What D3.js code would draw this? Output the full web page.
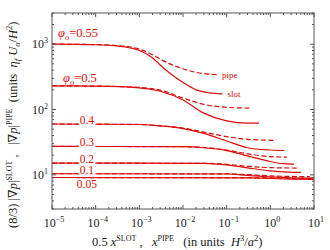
<!DOCTYPE html>
<html>
<head>
<meta charset="utf-8">
<script src="https://cdn.jsdelivr.net/npm/d3@7"></script>
<style>
body{margin:0;background:#fff}
svg{display:block}
text{font-family:"Liberation Serif","DejaVu Serif",serif;white-space:pre}
</style>
</head>
<body>
<div id="chartDiv"></div>
<script>
// curve values: [x, |grad p|]
const phiLabels = ["0.55", "0.5", "0.4", "0.3", "0.2", "0.1", "0.05"];
const slot055 = [[1e-5,1000],[1e-4,980],[3e-4,940],[1e-3,800],[2e-3,620],[3e-3,480],[5e-3,360],[1e-2,260],[2e-2,200],[4e-2,180],[8e-2,174]];
const pipe055 = [[1e-5,1000],[1e-4,985],[3e-4,955],[1e-3,840],[2e-3,690],[3e-3,590],[5e-3,500],[1e-2,420],[2e-2,370],[6e-2,340]];
const slot05  = [[1e-5,230],[1e-4,228],[1e-3,215],[3e-3,190],[1e-2,140],[3e-2,88],[0.1,67],[0.3,62],[0.55,62]];
const pipe05  = [[1e-5,230],[1e-4,228],[1e-3,218],[3e-3,198],[1e-2,150],[3e-2,120],[0.1,108],[0.35,105]];
const slot04  = [[1e-5,60],[1e-3,59],[3e-3,56],[1e-2,51],[3e-2,43],[0.1,33],[0.3,26],[1,24],[2.1,23.6]];
const pipe04  = [[1e-5,60],[1e-3,59],[3e-3,56.5],[1e-2,52],[3e-2,45],[0.1,38.5],[0.3,35],[1,33.8],[1.26,33.6]];
const slot03  = [[1e-5,27.2],[1e-2,27],[3e-2,26],[0.1,23.5],[0.3,19.5],[1,16],[2,14.8],[3.5,14.6]];
const pipe03  = [[1e-5,27.2],[1e-2,27],[3e-2,26.2],[0.1,24],[0.3,21],[1,19],[2.4,18.7]];
const slot02  = [[1e-5,15.1],[3e-2,15],[0.1,14.2],[0.3,12.8],[1,11.5],[2.5,11],[5,10.9]];
const pipe02  = [[1e-5,15.1],[3e-2,15],[0.1,14.5],[0.3,13.5],[1,12.9],[4,12.7]];
const slot01  = [[1e-5,10.4],[0.1,10.3],[0.3,9.8],[1,9.3],[3,9.0],[10,8.9]];
const pipe01  = [[1e-5,10.4],[0.1,10.35],[0.3,10.05],[1,9.65],[3,9.45],[8,9.4]];
const slot005 = [[1e-5,9.1],[0.3,9.0],[1,8.8],[3,8.6],[10,8.5]];
const pipe005 = [[1e-5,9.1],[0.3,9.05],[1,8.95],[3,8.85],[10,8.8]];
const slotCurves = [slot055, slot05, slot04, slot03, slot02, slot01, slot005];
const pipeCurves = [pipe055, pipe05, pipe04, pipe03, pipe02, pipe01, pipe005];
const xTickExps = [-5, -4, -3, -2, -1, 0, 1];
const yTickExps = [1, 2, 3];

const W = 330, H = 250;
const margin = {left: 52, right: 16, top: 13, bottom: 41};
const red = "#dd0a0a";
const axisCol = "#555";
const sp = "\u00a0";

const svg = d3.select("#chartDiv").append("svg").attr("width", W).attr("height", H);

const x = d3.scaleLog().domain([1e-5, 10]).range([margin.left, W - margin.right]);
const y = d3.scaleLog().domain([3, 3000]).range([H - margin.bottom, margin.top]);

const line = d3.line().x(d => x(d[0])).y(d => y(d[1])).curve(d3.curveMonotoneX);

// curves
const gLines = svg.append("g");
pipeCurves.forEach(c => {
    gLines.append("path").attr("d", line(c))
        .attr("fill", "none").attr("stroke", red).attr("stroke-width", 1.2)
        .attr("stroke-dasharray", "5,2.5");
});
slotCurves.forEach(c => {
    gLines.append("path").attr("d", line(c))
        .attr("fill", "none").attr("stroke", red).attr("stroke-width", 1.2);
});

// frame + ticks (inward, all four sides)
const x0 = x.range()[0], x1 = x.range()[1], y0 = y.range()[0], y1 = y.range()[1];
const gAx = svg.append("g").attr("stroke", axisCol).attr("stroke-width", 1).attr("fill", "none");
gAx.append("rect").attr("x", x0).attr("y", y1).attr("width", x1 - x0).attr("height", y0 - y1);

x.ticks().forEach(t => {
    let major = Math.abs(Math.log10(t) - Math.round(Math.log10(t))) < 1e-6;
    let len = major ? 4 : 2;
    gAx.append("line").attr("x1", x(t)).attr("x2", x(t)).attr("y1", y0).attr("y2", y0 - len);
    gAx.append("line").attr("x1", x(t)).attr("x2", x(t)).attr("y1", y1).attr("y2", y1 + len);
});
y.ticks().forEach(t => {
    let major = Math.abs(Math.log10(t) - Math.round(Math.log10(t))) < 1e-6;
    let len = major ? 4 : 2;
    gAx.append("line").attr("y1", y(t)).attr("y2", y(t)).attr("x1", x0).attr("x2", x0 + len);
    gAx.append("line").attr("y1", y(t)).attr("y2", y(t)).attr("x1", x1).attr("x2", x1 - len);
});

// tick labels
function powLabel(g, e, px, py, anchor){
    let t = g.append("text").attr("x", px).attr("y", py).attr("text-anchor", anchor)
        .attr("font-size", 12).attr("fill", "#222");
    t.append("tspan").text("10");
    t.append("tspan").attr("font-size", 8).attr("dy", -5).text(String(e).replace("-", "\u2212"));
    return t;
}
xTickExps.forEach(e => powLabel(svg, e, x(Math.pow(10, e)) + 2, 227, "middle"));
yTickExps.forEach(e => powLabel(svg, e, x0 - 4, y(Math.pow(10, e)) + 4, "end"));

// axis titles
function addParts(t, parts){
    parts.forEach(p => {
        let s = t.append("tspan").text(p.t);
        if (p.i) s.attr("font-style", "italic");
        if (p.s) s.attr("font-size", p.s);
        if (p.dy) s.attr("dy", p.dy);
    });
}
let xt = svg.append("text").attr("x", 92).attr("y", 246).attr("text-anchor", "start")
    .attr("font-size", 12.5).attr("fill", "#222");
addParts(xt, [
    {t: "0.5" + sp}, {t: "x", i: 1}, {t: "SLOT", s: 8, dy: -5}, {t: sp + "," + sp + sp + sp, dy: 5},
    {t: "x", i: 1}, {t: "PIPE", s: 8, dy: -5}, {t: sp + sp + sp + "(in" + sp + "units" + sp + sp, dy: 5},
    {t: "H", i: 1}, {t: "3", s: 8.5, dy: -5}, {t: "/", dy: 5}, {t: "a", i: 1},
    {t: "2", s: 8.5, dy: -5}, {t: ")", dy: 5}
]);

let yt = svg.append("text").attr("transform", "translate(17,228) rotate(-90)")
    .attr("text-anchor", "start").attr("font-size", 12.5).attr("fill", "#222");
addParts(yt, [
    {t: "(8/3)" + sp + "|\u2207"}, {t: "p", i: 1}, {t: "|"}, {t: "SLOT", s: 8, dy: -5}, {t: sp + "," + sp + sp + sp + "|\u2207", dy: 5},
    {t: "p", i: 1}, {t: "|"}, {t: "PIPE", s: 8, dy: -5}, {t: sp + sp + "(units" + sp + sp, dy: 5},
    {t: "\u03b7", i: 1}, {t: "f", i: 1, s: 8.5, dy: 3}, {t: sp + "U", i: 1, dy: -3}, {t: "o", i: 1, s: 8.5, dy: 3},
    {t: "/", dy: -3}, {t: "H", i: 1}, {t: "2", s: 8.5, dy: -5}, {t: ")", dy: 5}
]);

// curve labels
const gLab = svg.append("g").attr("fill", red);
function phiLabel(lbl, px, py){
    let t = gLab.append("text").attr("x", px).attr("y", py).attr("font-size", 12.5);
    addParts(t, [{t: "\u03c6", i: 1}, {t: "o", i: 1, s: 8.5, dy: 3}, {t: "=" + lbl, dy: -3}]);
}
phiLabel(phiLabels[0], 58, y(slot055[0][1]) - 7);
phiLabel(phiLabels[1], 63, y(slot05[0][1]) - 4);

function numLabel(lbl, c, below){
    let py = below ? y(c[0][1]) + 10 : y(c[0][1]);
    let t = gLab.append("text").attr("x", x(6.3e-5)).attr("y", py)
        .attr("text-anchor", "middle").attr("font-size", 11.5).text(lbl);
    if (!below){
        let bb = t.node().getBBox();
        gLab.insert("rect", () => t.node())
            .attr("x", bb.x - 1).attr("y", bb.y + 2).attr("width", bb.width + 2).attr("height", bb.height - 3)
            .attr("fill", "#fff");
    }
}
numLabel(phiLabels[2], slot04);
numLabel(phiLabels[3], slot03);
numLabel(phiLabels[4], slot02);
numLabel(phiLabels[5], slot01);
numLabel(phiLabels[6], slot005, true);

// pipe / slot tags
gLab.append("text").attr("x", x(pipe055[pipe055.length - 1][0]) + 5).attr("y", y(pipe055[pipe055.length - 1][1]) + 3)
    .attr("font-size", 9).text("pipe");
gLab.append("text").attr("x", x(slot055[slot055.length - 1][0]) + 5).attr("y", y(slot055[slot055.length - 1][1]) + 3)
    .attr("font-size", 9).text("slot");
</script>
</body>
</html>
